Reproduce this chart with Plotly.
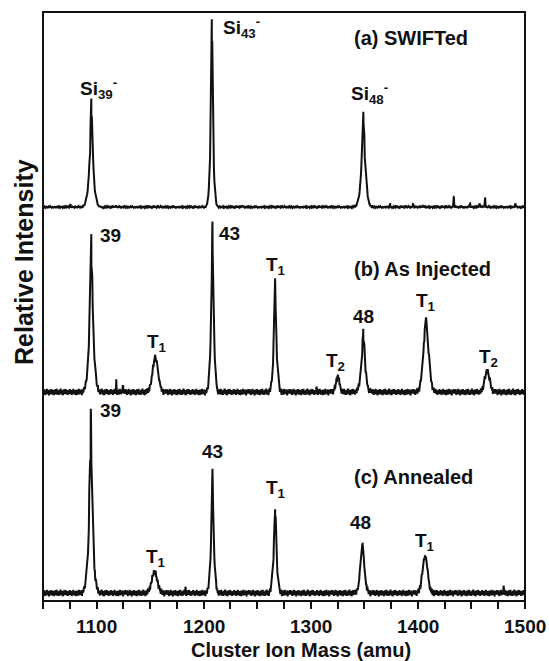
import numpy as np
import plotly.graph_objects as go

# ---------------- data ----------------
MASS_RANGE = [1050, 1500]
tick_vals = list(range(1050, 1501, 25))
tick_labels = ["" if v % 100 else str(v) for v in tick_vals]

# peak lists: centre mass (amu), total height, shoulder height, shoulder width, spike width
a_mass = [1095.1, 1207.6, 1349.1]
a_height = [108, 187, 96]
a_shoulder = [35, 60, 40]
a_wide = [2.7, 1.8, 2.5]
a_sharp = [1.1, 0.8, 1.1]
a_spike_mass = [1075.5, 1118.0, 1236.0, 1374.0, 1395.4, 1405.0, 1433.5, 1448.6, 1457.6, 1462.7, 1491.0]
a_spike_height = [3, 1.5, 1.5, 3, 3, 2, 10, 4, 4, 10, 3]

b_mass = [1095.1, 1154.8, 1208.2, 1266.7, 1325.2, 1349.0, 1407.6, 1464.7]
b_height = [158, 34, 171, 111, 15, 64, 76, 21]
b_shoulder = [60, 34, 70, 45, 15, 30, 60, 21]
b_wide = [2.6, 2.6, 1.8, 1.9, 1.7, 2.4, 2.7, 2.3]
b_sharp = [1.1, 1.0, 0.8, 0.9, 1.0, 1.0, 1.1, 1.0]
b_spike_mass = [1118.4, 1124.6, 1305.6]
b_spike_height = [11, 6, 5]

c_mass = [1094.6, 1154.1, 1208.2, 1266.7, 1348.1, 1406.6]
c_height = [183, 21, 124, 86, 51, 36]
c_shoulder = [55, 21, 45, 40, 35, 36]
c_wide = [2.7, 2.6, 1.9, 1.9, 2.2, 2.4]
c_sharp = [1.1, 1.0, 0.8, 0.9, 1.1, 1.0]
c_spike_mass = [1183.0, 1480.0]
c_spike_height = [5, 6]

# hand-typed ripple pattern (relative units)
ripple = [0.3, -1.2, 0.8, 1.9, -0.5, -2.1, 0.4, 1.1, -0.9, 2.3, -1.6, 0.2, -0.4, 1.5, -2.4, 0.9,
          -0.1, 1.7, -1.3, -0.7, 2.0, -1.8, 0.6, 0.1, -1.0, 1.3, -2.2, 0.5, 1.8, -0.6, -1.4, 0.7,
          2.2, -1.9, 0.0, 1.0, -0.8, -2.0, 1.6, 0.4, -1.1, 2.4, -0.3, -1.7, 0.9, 1.2, -2.3, 0.3,
          -0.5, 1.9, -1.5, 0.8, -0.2, 2.1, -1.2, -0.9, 1.4, -2.0, 0.6, 1.1, -0.7, -1.6, 2.0, 0.2,
          -1.3, 0.7, 1.6, -2.1, -0.4, 1.0, -0.8, 2.3, -1.4, 0.5, -1.9, 0.9, 1.3, -0.6, -2.2, 1.7,
          0.1, -1.0, 0.8, -1.8, 2.2, -0.3, 1.5, -1.5, 0.4, -0.9, 1.8, -2.4, 0.6, 1.2, -1.1, 0.0, 2.0]

panels = [
    dict(name="(a) SWIFTed", mass=a_mass, height=a_height, shoulder=a_shoulder, wide=a_wide,
         sharp=a_sharp, smass=a_spike_mass, sheight=a_spike_height, ripple=0.35, baseline_px=207,
         labels=[("Si<sub>39</sub><sup>-</sup>", 0, "center", 7, 11),
                 ("Si<sub>43</sub><sup>-</sup>", 1, "left", 9, -7),
                 ("Si<sub>48</sub><sup>-</sup>", 2, "center", 6, 18)],
         title_px=38),
    dict(name="(b) As Injected", mass=b_mass, height=b_height, shoulder=b_shoulder, wide=b_wide,
         sharp=b_sharp, smass=b_spike_mass, sheight=b_spike_height, ripple=1.4, baseline_px=392,
         labels=[("39", 0, "left", 7, -1), ("T<sub>1</sub>", 1, "center", 2, 15),
                 ("43", 2, "left", 5, -12), ("T<sub>1</sub>", 3, "center", 1, 15),
                 ("T<sub>2</sub>", 4, "center", -2, 15), ("48", 5, "center", 0, 12),
                 ("T<sub>1</sub>", 6, "center", 0, 14), ("T<sub>2</sub>", 7, "center", 1, 13)],
         title_px=269),
    dict(name="(c) Annealed", mass=c_mass, height=c_height, shoulder=c_shoulder, wide=c_wide,
         sharp=c_sharp, smass=c_spike_mass, sheight=c_spike_height, ripple=1.4, baseline_px=593,
         labels=[("39", 0, "left", 7, 0), ("T<sub>1</sub>", 1, "center", 1, 14),
                 ("43", 2, "center", 0, 18), ("T<sub>1</sub>", 3, "center", 1, 18),
                 ("48", 4, "center", -2, 20), ("T<sub>1</sub>", 5, "center", 0, 15)],
         title_px=477),
]

# ---------------- figure ----------------
W, H = 549, 661
ML, MR, MT, MB = 43, 24, 12, 60
plot_top, plot_bot = MT, H - MB
FONT = "Liberation Sans, Arial, Helvetica, sans-serif"
INK = "#111111"


def paper_y(px):
    return (plot_bot - px) / (plot_bot - plot_top)


def paper_x(px):
    return (px - ML) / (W - ML - MR)


fig = go.Figure()
annotations = []

for k, p in enumerate(panels):
    grid = np.unique(np.concatenate([np.arange(MASS_RANGE[0], MASS_RANGE[1] + 0.001, 0.4),
                                     np.array(p["mass"]), np.array(p["smass"])]))
    y = np.zeros_like(grid)
    spike = np.zeros_like(grid)
    for m, h, s, w, n in zip(p["mass"], p["height"], p["shoulder"], p["wide"], p["sharp"]):
        y += s * np.exp(-0.5 * ((grid - m) / w) ** 2)
        spike += (h - s) * np.exp(-0.5 * ((grid - m) / n) ** 2)
    for m, h in zip(p["smass"], p["sheight"]):
        y += h * np.exp(-0.5 * ((grid - m) / 0.25) ** 2)
    rip = np.array([ripple[i % len(ripple)] for i in range(len(grid))])
    # spiky peak bodies flicker below the tip (filled look); the tip itself is kept
    flicker = np.where(np.isin(grid, p["mass"]), 1.0, 1 - 0.2 * np.abs(rip))
    y += spike * flicker
    y += rip * p["ripple"]

    axname = "y" if k == 0 else f"y{k + 1}"
    fig.add_trace(go.Scatter(x=grid, y=y, mode="lines", yaxis=axname,
                             line=dict(color=INK, width=2.0), hoverinfo="skip",
                             showlegend=False))

    B = p["baseline_px"]
    rng = [-(plot_bot - B), B - plot_top]
    axkey = "yaxis" if k == 0 else f"yaxis{k + 1}"
    axdef = dict(range=rng, domain=[0, 1], visible=False, fixedrange=True)
    if k > 0:
        axdef["overlaying"] = "y"
    fig.update_layout(**{axkey: axdef})

    for text, idx, anchor, dx, dy in p["labels"]:
        annotations.append(dict(x=p["mass"][idx], y=p["height"][idx], xref="x", yref=axname,
                                text=text, showarrow=False, xanchor=anchor, yanchor="middle",
                                xshift=dx, yshift=dy,
                                font=dict(family=FONT, size=19, color=INK, weight="bold")))
    annotations.append(dict(x=1338.5, y=B - p["title_px"], xref="x", yref=axname,
                            text=p["name"], showarrow=False, xanchor="left", yanchor="middle",
                            font=dict(family=FONT, size=20, color=INK, weight="bold")))

# tick labels (drawn as text just under the ticks)
for v, t in zip(tick_vals, tick_labels):
    if t:
        annotations.append(dict(x=v, y=paper_y(626), xref="x", yref="paper", text=t,
                                showarrow=False, xanchor="center", yanchor="middle",
                                font=dict(family=FONT, size=19, color=INK, weight="bold")))

annotations.append(dict(x=paper_x(301), y=paper_y(650), xref="paper", yref="paper",
                        text="Cluster Ion Mass (amu)", showarrow=False,
                        xanchor="center", yanchor="middle",
                        font=dict(family=FONT, size=20, color=INK, weight="bold")))
annotations.append(dict(x=paper_x(24), y=paper_y(262), xref="paper", yref="paper",
                        text="Relative Intensity", showarrow=False,
                        textangle=-90, xanchor="center", yanchor="middle",
                        font=dict(family=FONT, size=25, color=INK, weight="bold")))

fig.update_layout(
    width=W, height=H,
    margin=dict(l=ML, r=MR, t=MT, b=MB),
    paper_bgcolor="white", plot_bgcolor="white",
    xaxis=dict(range=MASS_RANGE, tickmode="array", tickvals=tick_vals, ticktext=tick_labels,
               ticks="outside", ticklen=7, tickwidth=1.5, tickcolor=INK, showticklabels=False,
               showgrid=False, zeroline=False, showline=False, fixedrange=True),
    annotations=annotations,
    shapes=[dict(type="rect", xref="paper", yref="paper", x0=0, x1=1, y0=0, y1=1,
                 line=dict(color=INK, width=2))],
)

fig.write_html("out.html", config={"displayModeBar": False},
               post_script="document.body.style.margin='0';document.body.style.overflow='hidden';")
